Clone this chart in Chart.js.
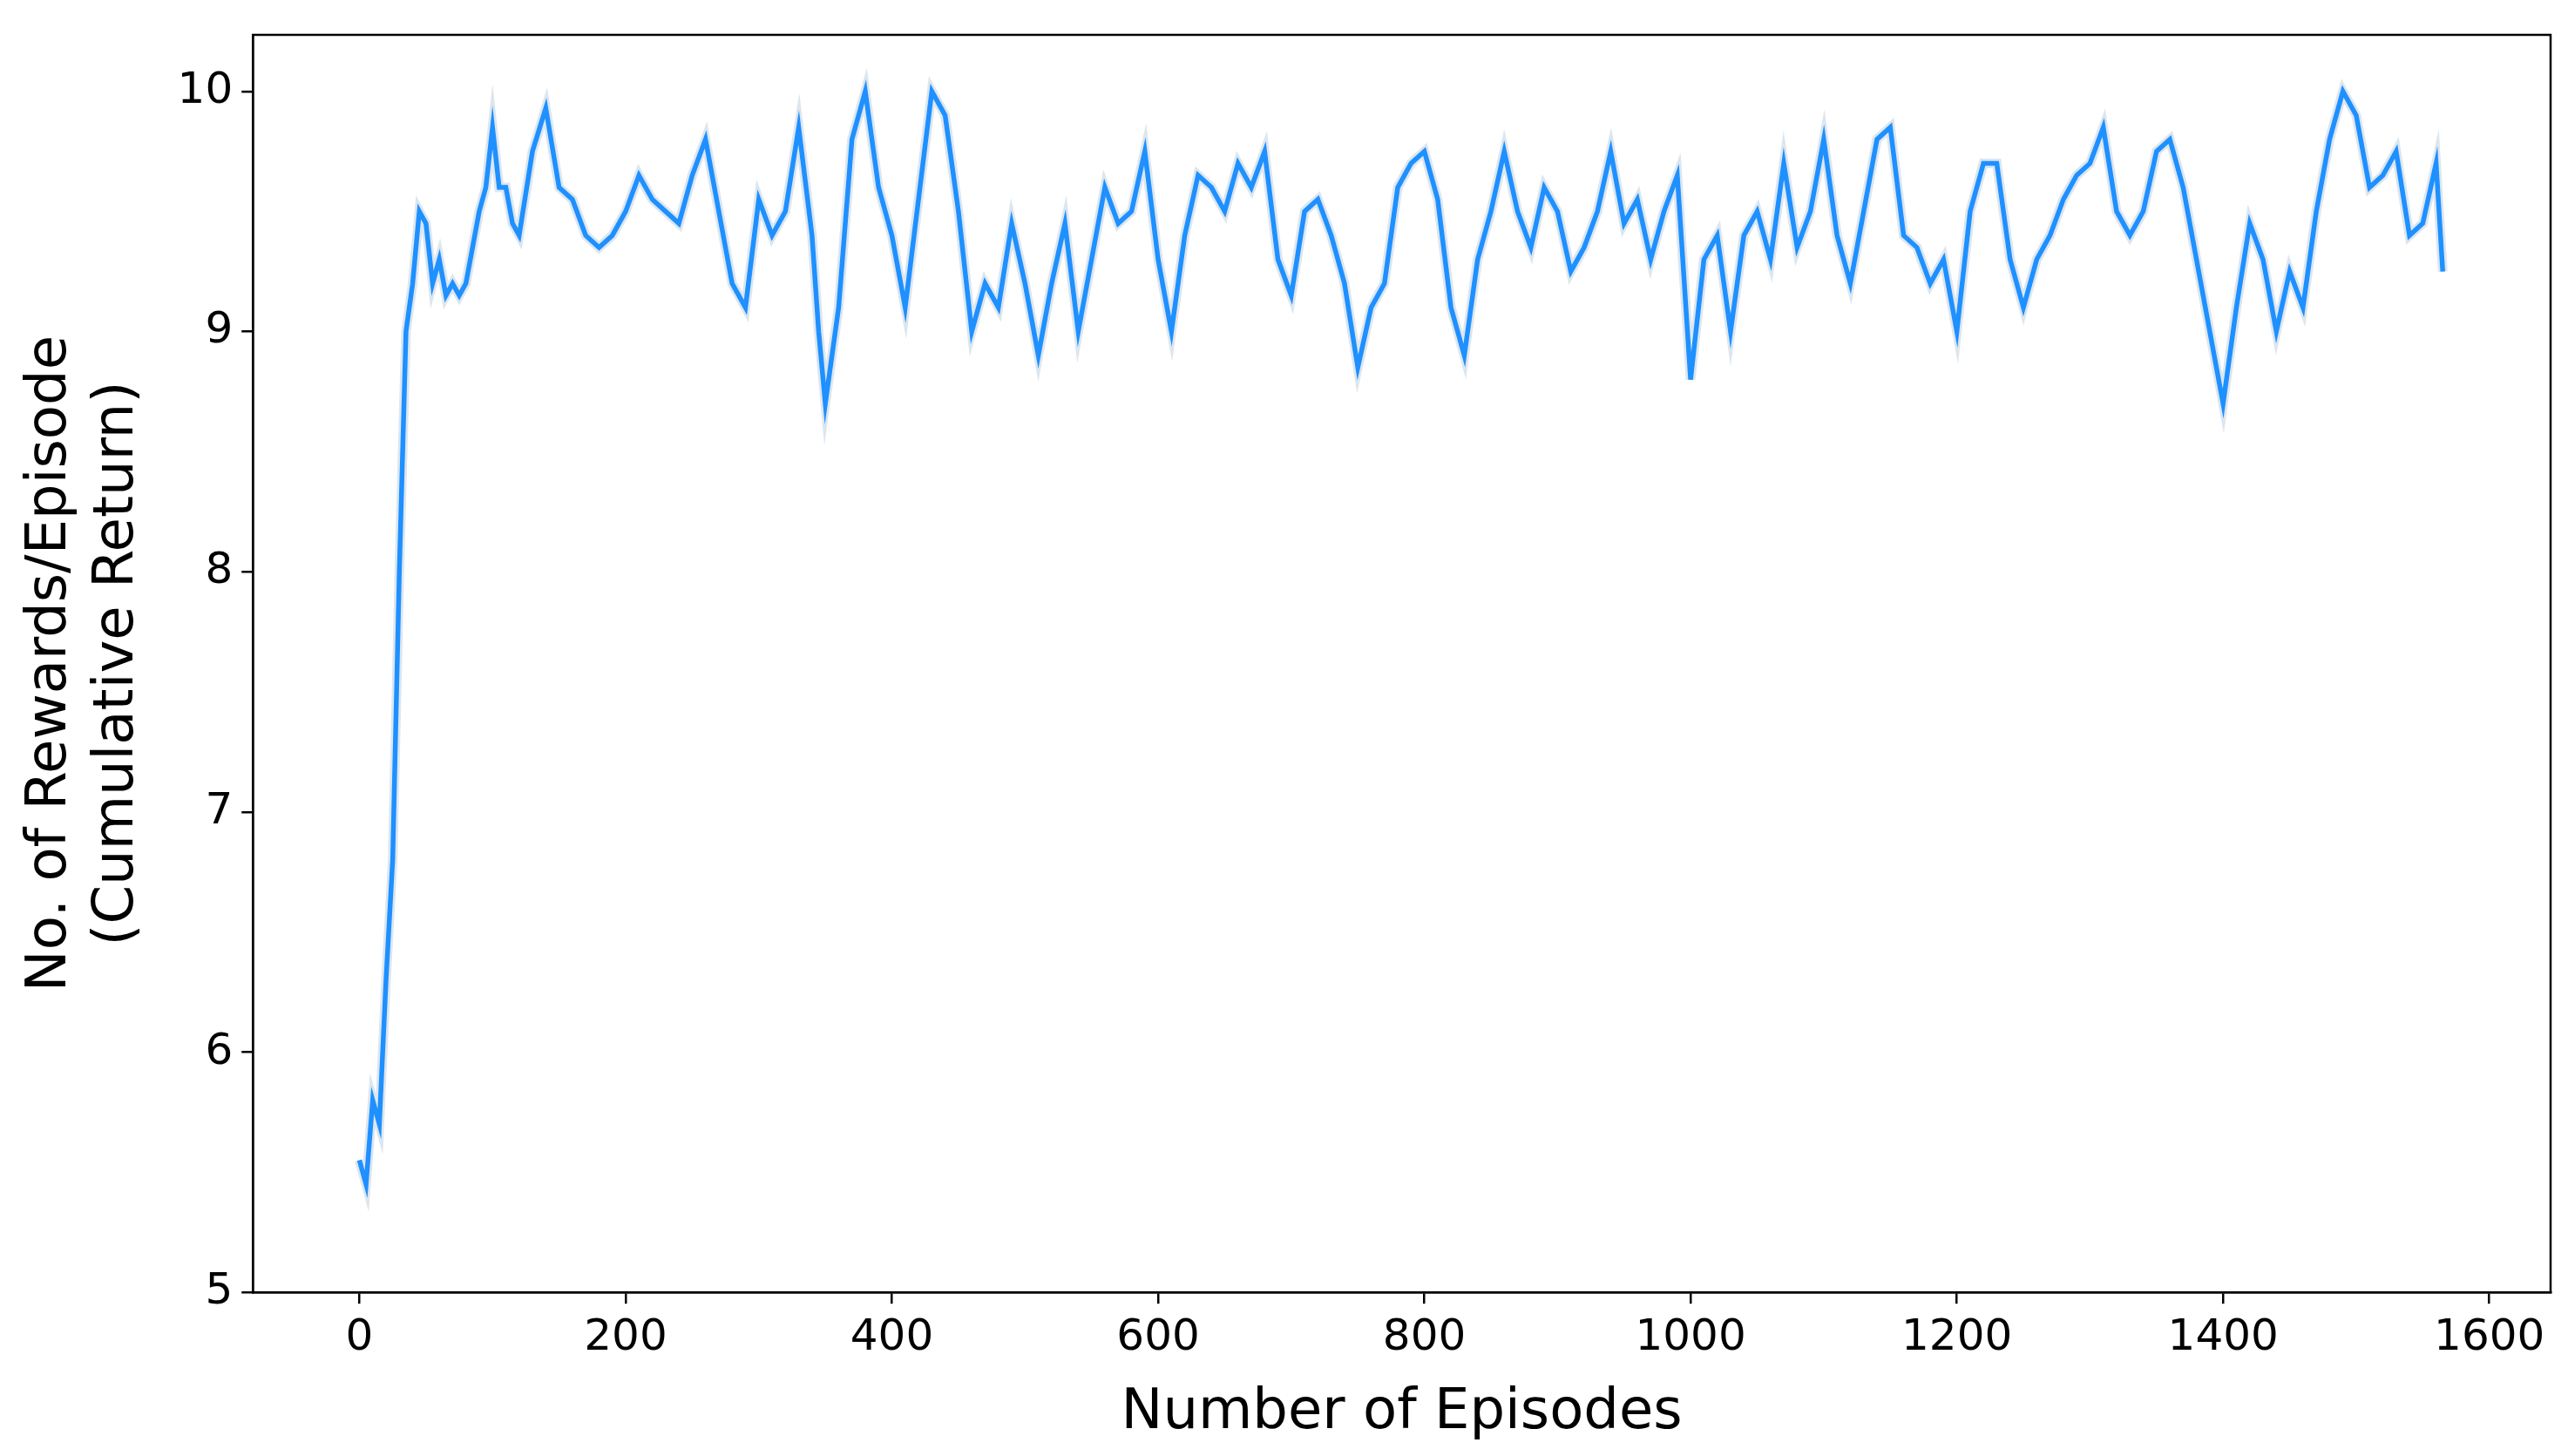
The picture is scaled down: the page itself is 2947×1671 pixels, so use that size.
<!DOCTYPE html>
<html>
<head>
<meta charset="utf-8">
<script src="https://cdn.jsdelivr.net/npm/chart.js@4/dist/chart.umd.min.js"></script>
<style>
  html, body { margin: 0; padding: 0; background: #fff; }
  #wrap { width: 2947px; height: 1671px; }
</style>
</head>
<body>
<div id="wrap"><canvas id="rewardChart"></canvas></div>
<script>
const episodes = [0,5,10,15,20,25,30,35,40,45,50,55,60,65,70,75,80,85,90,95,100,105,110,115,120,130,140,150,160,170,180,190,200,210,220,230,240,250,260,270,280,290,300,310,320,330,340,345,350,360,370,380,390,400,410,420,430,440,450,460,470,480,490,500,510,520,530,540,550,560,570,580,590,600,610,620,630,640,650,660,670,680,690,700,710,720,730,740,750,760,770,780,790,800,810,820,830,840,850,860,870,880,890,900,910,920,930,940,950,960,970,980,990,1000,1010,1020,1030,1040,1050,1060,1070,1080,1090,1100,1110,1120,1130,1140,1150,1160,1170,1180,1190,1200,1210,1220,1230,1240,1250,1260,1270,1280,1290,1300,1310,1320,1330,1340,1350,1360,1370,1380,1390,1400,1410,1420,1430,1440,1450,1460,1470,1480,1490,1500,1510,1520,1530,1540,1550,1560,1565];
const rewards = [5.55,5.45,5.8,5.7,6.3,6.8,8.0,9.0,9.2,9.5,9.45,9.2,9.3,9.15,9.2,9.15,9.2,9.35,9.5,9.6,9.85,9.6,9.6,9.45,9.4,9.75,9.93,9.6,9.55,9.4,9.35,9.4,9.5,9.65,9.55,9.5,9.45,9.65,9.8,9.5,9.2,9.1,9.55,9.4,9.5,9.85,9.4,9.0,8.7,9.1,9.8,10.0,9.6,9.4,9.1,9.55,10.0,9.9,9.5,9.0,9.2,9.1,9.45,9.2,8.9,9.2,9.45,9.0,9.3,9.6,9.45,9.5,9.75,9.3,9.0,9.4,9.65,9.6,9.5,9.7,9.6,9.75,9.3,9.15,9.5,9.55,9.4,9.2,8.85,9.1,9.2,9.6,9.7,9.75,9.55,9.1,8.9,9.3,9.5,9.75,9.5,9.35,9.6,9.5,9.25,9.35,9.5,9.75,9.45,9.55,9.3,9.5,9.65,8.8,9.3,9.4,9.0,9.4,9.5,9.3,9.7,9.35,9.5,9.8,9.4,9.2,9.5,9.8,9.85,9.4,9.35,9.2,9.3,9.0,9.5,9.7,9.7,9.3,9.1,9.3,9.4,9.55,9.65,9.7,9.85,9.5,9.4,9.5,9.75,9.8,9.6,9.3,9.0,8.7,9.1,9.45,9.3,9.0,9.25,9.1,9.5,9.8,10.0,9.9,9.6,9.65,9.75,9.4,9.45,9.7,9.25];
const xTicks = [0,200,400,600,800,1000,1200,1400,1600];
const yTicks = [5,6,7,8,9,10];

const frameBox = {
  id: 'frameBox',
  afterDraw(chart) {
    const a = chart.chartArea, c = chart.ctx;
    c.save();
    c.strokeStyle = '#000';
    c.lineWidth = 2.5;
    c.strokeRect(a.left, a.top, a.right - a.left, a.bottom - a.top);
    c.restore();
  }
};

const tickFont = { family: 'DejaVu Sans', size: 50 };
const titleFont = { family: 'DejaVu Sans', size: 64 };
const points = episodes.map((e, i) => ({ x: e, y: rewards[i] }));

new Chart(document.getElementById('rewardChart'), {
  type: 'line',
  data: {
    datasets: [
      { data: points, borderColor: '#1e90ff', borderWidth: 5.5, pointRadius: 0, tension: 0, order: 1 },
      { data: points, borderColor: '#dce6ef', borderWidth: 11, pointRadius: 0, tension: 0, order: 2 }
    ]
  },
  options: {
    responsive: true,
    maintainAspectRatio: false,
    animation: false,
    layout: { padding: { top: 26, right: 20, left: 20, bottom: 10 } },
    plugins: { legend: { display: false }, tooltip: { enabled: false } },
    scales: {
      x: {
        type: 'linear',
        min: -80,
        max: 1646,
        afterBuildTicks(s) { s.ticks = xTicks.map(v => ({ value: v })); },
        ticks: { font: tickFont, color: '#000', padding: 10, callback: v => String(v) },
        grid: { drawOnChartArea: false, drawTicks: true, tickLength: 13, color: '#000', lineWidth: 2.5 },
        border: { display: true, color: '#000', width: 2.5 },
        title: { display: true, text: 'Number of Episodes', font: titleFont, color: '#000', padding: { top: 8, bottom: 0 } }
      },
      y: {
        min: 5,
        max: 10.235,
        afterBuildTicks(s) { s.ticks = yTicks.map(v => ({ value: v })); },
        ticks: { font: tickFont, color: '#000', padding: 10, callback: v => String(v) },
        grid: { drawOnChartArea: false, drawTicks: true, tickLength: 13, color: '#000', lineWidth: 2.5 },
        border: { display: true, color: '#000', width: 2.5 },
        title: { display: true, text: ['No. of Rewards/Episode', '(Cumulative Return)'], font: titleFont, color: '#000', padding: { top: 0, bottom: 20 } }
      }
    }
  },
  plugins: [frameBox]
});
</script>
</body>
</html>
